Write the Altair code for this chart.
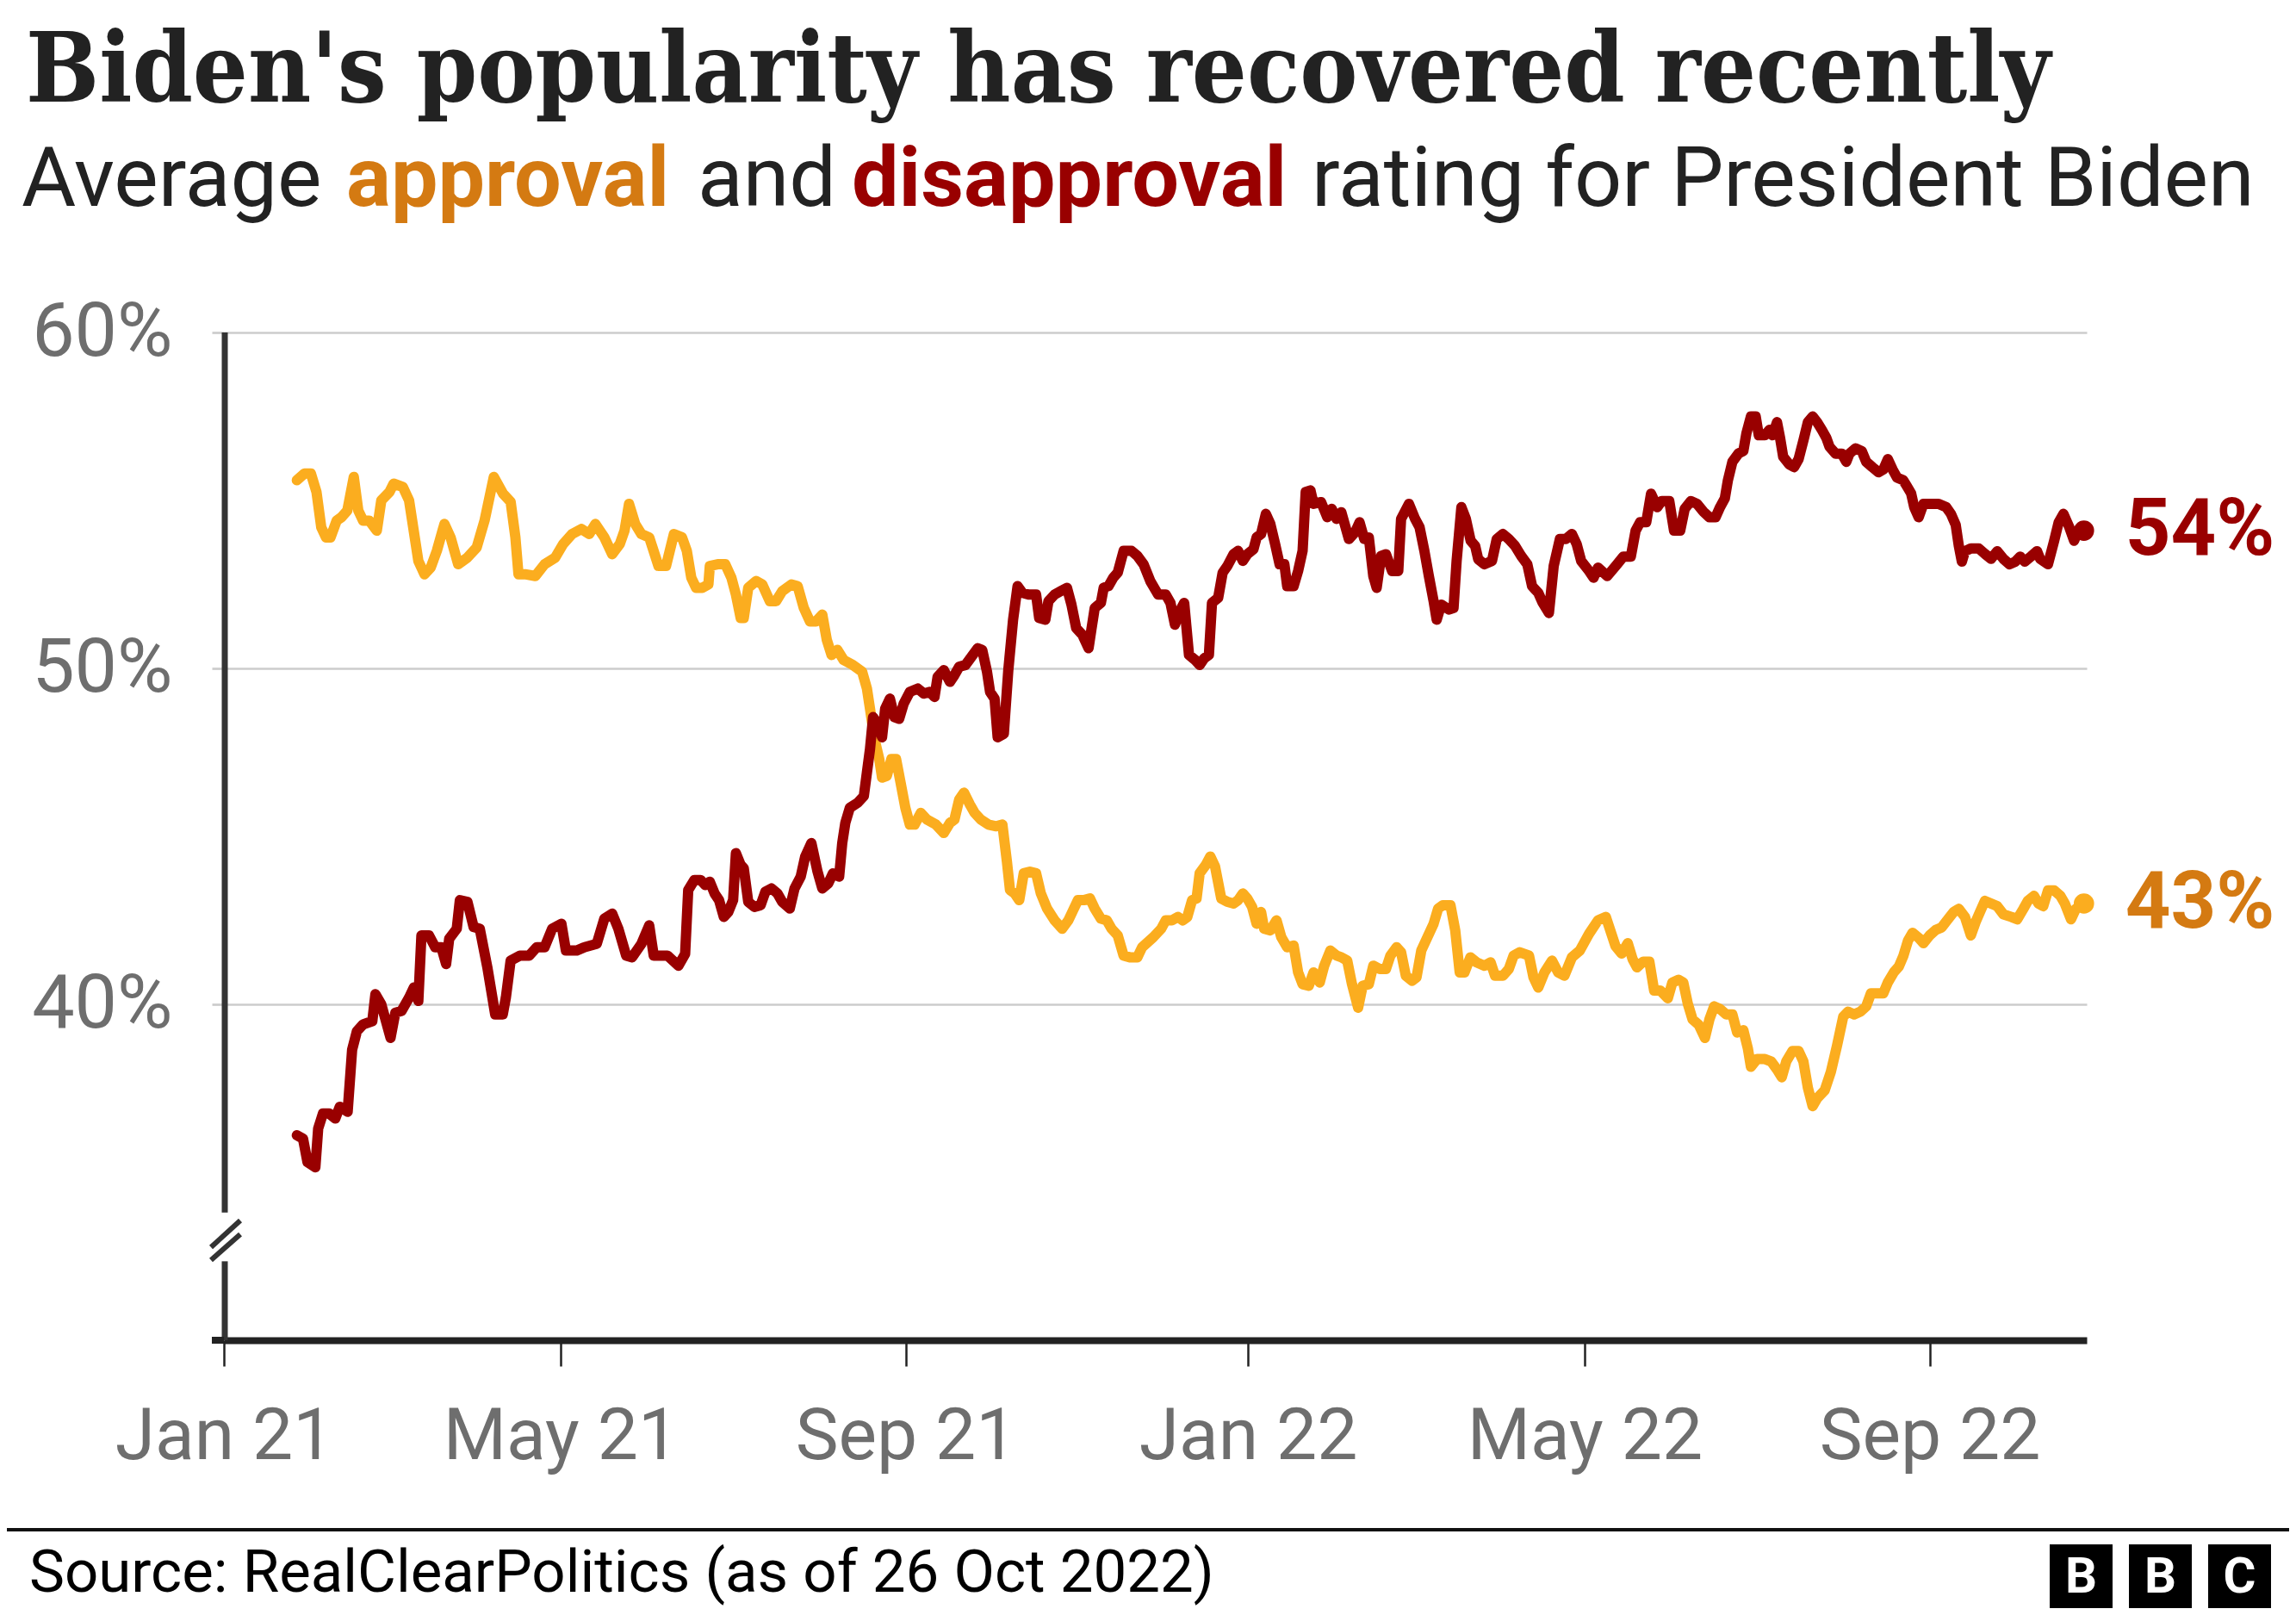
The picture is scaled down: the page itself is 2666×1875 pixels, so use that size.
import pandas as pd
import altair as alt

start = pd.Timestamp("2021-01-01")

approval_day = [
    26, 28.7, 31, 33, 34.7, 36.4, 38, 40.2, 41.9, 44, 46.3, 47.9, 49.6, 51.8, 54.5, 56.1, 59, 60.5,
    63.8, 66, 69.3, 71.5, 73.7, 75.9, 78.6, 80.8, 83.5, 86.8, 90.1, 92.9, 96.2, 99.5, 102.2, 103.9,
    105, 107.7, 111, 114.3, 118.1, 120.9, 124.1, 127.4, 130.2, 132.4, 135.6, 138.4, 141.1, 142.8,
    144.4, 146.6, 148.8, 151.6, 154.9, 157.6, 160.4, 163.3, 165, 166.6, 168.3, 170.5, 172.7, 173.2,
    176, 178.7, 180.9, 182.5, 184.2, 185.3, 186.9, 189.7, 191.9, 194.6, 196.8, 199, 202.3, 204.5,
    206.7, 208.9, 211.1, 213.3, 214.9, 216.6, 218.7, 220.9, 224.2, 227.5, 229.2, 230.3, 231.9,
    233.6, 234.6, 236.3, 237.9, 239.6, 241.2, 242.9, 244.5, 246.2, 248.4, 250.6, 253.8, 256.6,
    258.8, 260.4, 262.1, 263.8, 265.9, 267.6, 269.8, 272.5, 275.3, 277.5, 279.1, 280.2, 281.9,
    283.5, 285.1, 287.3, 289.5, 291.2, 293.4, 296.1, 298.8, 301, 302.7, 304.4, 306.5, 308.7, 310.4,
    312.6, 314.7, 316.4, 318.6, 320.7, 322.9, 325.6, 327.3, 331.3, 334.1, 335.7, 337.9, 340.1,
    341.8, 343.4, 345.1, 346.7, 347.8, 350, 351.6, 353.3, 355.5, 357.7, 359.9, 361.5, 363.2, 364.8,
    366.5, 368.1, 369.7, 370.8, 373, 375.2, 376.9, 379, 381.3, 382.9, 384.5, 386.7, 388.4, 390.6,
    392.2, 394.4, 396.6, 398.3, 400.4, 402.1, 404.3, 405.9, 408.1, 409.7, 412, 414.2, 415.8, 418,
    419.6, 421.3, 423.5, 425.1, 426.8, 429, 431.2, 432.8, 434.5, 437.2, 438.9, 440.5, 442.2, 444.3,
    446.5, 449.3, 451.5, 453.1, 455.9, 458, 459.7, 461.9, 465.2, 466.8, 468.5, 470.7, 473.4, 475.6,
    477.8, 480.5, 483.3, 486.6, 489.8, 492.6, 496, 498.2, 500.4, 502.1, 503.7, 505.9, 508.1, 509.8,
    512, 514.7, 516.3, 518.5, 520.2, 521.8, 523.5, 525.7, 527.9, 529.5, 531.2, 533.3, 535.5, 537.7,
    539.4, 541.6, 543.2, 544.3, 546.5, 549.3, 551.5, 553.6, 555.3, 556.9, 559.1, 561.3, 563, 564.6,
    566.3, 567.9, 570.6, 572.8, 575, 577.2, 578.9, 581.1, 583.3, 585.4, 587.1, 589.3, 591.5, 593.1,
    595.3, 597, 598.6, 600.3, 601.9, 604.1, 605.8, 608, 610.1, 612.3, 614.5, 616.7, 618.4, 620.6,
    622.7, 624.4, 626, 627.7, 629.9, 632.1, 634.3, 637.2, 639.2, 641.4, 643, 645.2, 646.8, 648.5,
    650.2, 652.4, 654.6, 656.2, 658.4, 660.1, 663,
]
approval_pct = [
    55.6, 55.8, 55.8, 55.25, 54.2, 53.9, 53.9, 54.4, 54.5, 54.7, 55.7, 54.7, 54.4, 54.4, 54.1, 55.0,
    55.25, 55.5, 55.4, 55.0, 53.2, 52.8, 53.0, 53.5, 54.3, 53.9, 53.1, 53.3, 53.6, 54.4, 55.7, 55.2,
    54.96, 53.9, 52.8, 52.8, 52.75, 53.1, 53.3, 53.7, 54.0, 54.15, 54.0, 54.3, 53.9, 53.4, 53.7,
    54.1, 54.9, 54.3, 54.0, 53.9, 53.05, 53.05, 54.0, 53.9, 53.5, 52.7, 52.4, 52.4, 52.5, 53.05,
    53.1, 53.1, 52.7, 52.2, 51.5, 51.5, 52.4, 52.6, 52.5, 52.0, 52.0, 52.3, 52.5, 52.45, 51.8, 51.4,
    51.4, 51.6, 50.85, 50.4, 50.55, 50.25, 50.1, 49.9, 49.4, 48.8, 47.9, 47.3, 46.75, 46.8, 47.3,
    47.3, 46.6, 45.85, 45.35, 45.35, 45.7, 45.5, 45.35, 45.1, 45.4, 45.5, 46.1, 46.3, 45.95, 45.7,
    45.5, 45.35, 45.3, 45.35, 44.25, 43.4, 43.3, 43.1, 43.9, 43.95, 43.9, 43.3, 42.85, 42.5, 42.25,
    42.5, 42.8, 43.1, 43.1, 43.15, 42.85, 42.55, 42.5, 42.25, 42.05, 41.45, 41.4, 41.4, 41.7, 42.0,
    42.25, 42.5, 42.5, 42.6, 42.5, 42.6, 43.1, 43.15, 43.9, 44.15, 44.4, 44.1, 43.15, 43.05, 43.0,
    43.1, 43.3, 43.15, 42.9, 42.4, 42.75, 42.25, 42.2, 42.5, 42.0, 41.7, 41.75, 40.95, 40.6, 40.55,
    40.95, 40.65, 41.15, 41.6, 41.45, 41.4, 41.3, 40.6, 39.9, 40.55, 40.6, 41.15, 41.05, 41.05,
    41.45, 41.7, 41.55, 40.85, 40.7, 40.8, 41.6, 42.0, 42.4, 42.85, 42.95, 42.95, 42.2, 40.95, 40.95,
    41.4, 41.25, 41.15, 41.25, 40.85, 40.85, 41.05, 41.45, 41.55, 41.45, 40.8, 40.5, 40.95, 41.3,
    40.95, 40.85, 41.4, 41.6, 42.1, 42.5, 42.6, 41.74, 41.51, 41.82, 41.35, 41.1, 41.27, 41.27,
    40.41, 40.41, 40.18, 40.65, 40.73, 40.65, 40.02, 39.55, 39.39, 39.0, 39.55, 39.94, 39.86, 39.7,
    39.7, 39.16, 39.23, 38.69, 38.14, 38.37, 38.37, 38.3, 38.06, 37.83, 38.3, 38.61, 38.61, 38.3,
    37.52, 36.97, 37.2, 37.44, 37.99, 38.77, 39.63, 39.78, 39.7, 39.78, 39.94, 40.33, 40.33, 40.33,
    40.65, 40.96, 41.12, 41.43, 41.9, 42.13, 41.98, 41.82, 42.05, 42.21, 42.29, 42.53, 42.76, 42.84,
    42.6, 42.05, 42.45, 42.76, 43.08, 43.0, 42.92, 42.68, 42.6, 42.53, 42.84, 43.08, 43.23, 43.0,
    42.92, 43.39, 43.39, 43.23, 43.0, 42.53, 42.84, 43.0,
]

disapproval_day = [
    26, 28.2, 29.8, 32.6, 33.6, 35.3, 37.5, 39.7, 41.3, 44.1, 45.7, 47.4, 49.6, 52.9, 54, 56.1, 59.4,
    61.1, 63.3, 66, 67.7, 69.3, 70.4, 73.1, 75.3, 77.5, 79.2, 80.3, 83, 84.1, 86.8, 89, 91.2, 93.9,
    96.7, 99.4, 100.5, 102.2, 105.5, 108.8, 111.5, 114.3, 117, 120.3, 121.9, 125.8, 128.5, 132.9,
    135.6, 138.4, 140.6, 143.4, 145.5, 148.8, 151.6, 153.2, 158.1, 162, 164.4, 165.5, 167.7, 169.9,
    171.6, 173.2, 174.9, 176.5, 178.2, 179.8, 181.5, 182.5, 184.2, 185.3, 186.9, 189.1, 191.3, 193,
    195.2, 197.3, 199, 201.7, 203.4, 205.6, 207.2, 209.4, 211.6, 213.3, 215.4, 217.1, 219.3, 220.4,
    221.5, 223.1, 225.9, 228.1, 229.2, 230.3, 231.4, 233, 234.6, 235.7, 237.4, 239, 240.7, 242.3,
    244.5, 247.3, 249.5, 251.6, 253.3, 254.4, 256.6, 258.8, 260.4, 262.1, 264.3, 266.5, 268.7,
    270.3, 272, 273.1, 274.7, 275.8, 278, 279.6, 281.3, 282.9, 284.6, 286.8, 289.5, 290.6, 292.8,
    293.9, 296.1, 298.3, 300.5, 302.1, 303.8, 306, 308.2, 309.2, 310.4, 312.6, 313.6, 315.3, 317,
    318.6, 320.7, 323.5, 325.6, 327.8, 330.2, 333, 335.7, 337.4, 339, 340.7, 342.3, 344, 346.2,
    347.8, 349.4, 351.1, 352.2, 354.4, 356, 357.7, 359.9, 361.5, 363.2, 364.8, 367, 368.1, 369.7,
    371.4, 373, 374.7, 376.3, 378, 379, 381.3, 382.9, 384.5, 385.6, 387.3, 388.4, 391.1, 393.3,
    394.9, 396.6, 398.3, 401, 403.2, 404.8, 406.5, 408.1, 409.7, 410.9, 412.5, 414.2, 416.4, 418.6,
    419.6, 422.4, 424.6, 426.2, 427.9, 429.5, 431.2, 432.3, 433.9, 436.7, 438.3, 439.4, 441.1,
    442.7, 444.4, 446, 447.1, 449.3, 452, 453.7, 455.9, 458, 460.2, 462.4, 464.6, 466.3, 468.5,
    470.1, 472.3, 474, 476.2, 478.3, 480.5, 482.2, 483.8, 486.6, 488.2, 489.8, 493.1, 496.6, 498.8,
    501.5, 503.2, 504.8, 507, 508.7, 510.9, 512.5, 515.2, 516.9, 519.1, 520.7, 522.9, 525.1, 527.3,
    529.5, 531.7, 533.3, 535, 536.1, 537.7, 539.9, 541.6, 542.7, 544.3, 546, 547.1, 549.3, 550.9,
    552, 553.6, 554.7, 555.8, 558, 559.7, 561.3, 563, 564.6, 566.3, 567.9, 569.6, 571.2, 572.3,
    574.5, 576.7, 578.3, 579.4, 581.6, 583.8, 585.4, 587.6, 589.8, 591.5, 593.1, 594.8, 596.4,
    598.6, 599.7, 601.4, 602.5, 604.1, 605.8, 608.5, 611.2, 613.9, 615.6, 617.3, 618.4, 619.5,
    620.6, 622.7, 625.5, 627.7, 629.9, 632.1, 634.3, 636.5, 638.6, 640.3, 641.9, 644.1, 646.3,
    647.4, 650.2, 652.4, 654, 655.7, 657.8, 659.5, 661.1, 663,
]
disapproval_pct = [
    36.1, 36.0, 35.3, 35.15, 36.3, 36.75, 36.75, 36.6, 36.95, 36.8, 38.65, 39.2, 39.4, 39.5, 40.3,
    40.0, 39.0, 39.75, 39.8, 40.2, 40.5, 40.1, 42.05, 42.05, 41.7, 41.7, 41.2, 41.95, 42.25, 43.1,
    43.05, 42.3, 42.25, 41.1, 39.7, 39.7, 40.2, 41.3, 41.45, 41.45, 41.7, 41.7, 42.25, 42.4, 41.6,
    41.6, 41.7, 41.8, 42.55, 42.7, 42.25, 41.45, 41.4, 41.8, 42.35, 41.45, 41.45, 41.15, 41.5, 43.4,
    43.7, 43.7, 43.55, 43.65, 43.3, 43.1, 42.6, 42.75, 43.1, 44.5, 44.15, 44.05, 43.05, 42.9, 42.95,
    43.35, 43.45, 43.3, 43.05, 42.85, 43.45, 43.8, 44.4, 44.8, 43.95, 43.45, 43.6, 43.9, 43.8, 44.8,
    45.4, 45.85, 46.0, 46.2, 46.9, 47.6, 48.55, 48.35, 47.95, 48.8, 49.1, 48.55, 48.5, 48.95, 49.3,
    49.4, 49.25, 49.3, 49.15, 49.75, 49.95, 49.6, 49.8, 50.05, 50.1, 50.35, 50.6, 50.55, 49.9, 49.3,
    49.1, 47.95, 48.05, 49.95, 51.45, 52.45, 52.25, 52.2, 52.2, 51.5, 51.45, 52.0, 52.2, 52.3, 52.4,
    51.9, 51.2, 51.0, 50.6, 51.15, 51.8, 51.95, 52.4, 52.45, 52.7, 52.85, 53.5, 53.5, 53.35, 53.1,
    52.6, 52.2, 52.2, 51.95, 51.3, 51.7, 51.95, 50.4, 50.25, 50.1, 50.3, 50.4, 51.95, 52.1, 52.85,
    53.05, 53.4, 53.5, 53.2, 53.4, 53.55, 53.9, 54.0, 54.6, 54.3, 53.7, 53.1, 53.1, 52.45, 52.45,
    52.9, 53.5, 55.25, 55.3, 54.9, 54.95, 54.5, 54.75, 54.45, 54.65, 53.85, 54.05, 54.35, 53.85,
    53.9, 52.75, 52.4, 53.35, 53.4, 52.9, 52.9, 54.45, 54.9, 54.45, 54.2, 53.5, 52.75, 52.0, 51.45,
    51.9, 51.75, 51.8, 53.2, 54.8, 54.45, 53.8, 53.65, 53.25, 53.1, 53.2, 53.85, 54.0, 53.85, 53.65,
    53.35, 53.1, 52.45, 52.25, 51.95, 51.65, 53.05, 53.85, 53.85, 54.0, 53.7, 53.2, 52.9, 52.7,
    53.0, 52.75, 53.1, 53.33, 53.33, 54.1, 54.35, 54.35, 55.2, 54.8, 54.98, 54.98, 54.1, 54.1,
    54.75, 54.98, 54.9, 54.67, 54.5, 54.5, 54.8, 55.06, 55.6, 56.15, 56.4, 56.47, 57.0, 57.5, 57.5,
    56.94, 56.94, 57.1, 56.94, 57.33, 56.86, 56.3, 56.07, 55.99, 56.23, 56.78, 57.33, 57.5, 57.33,
    57.1, 56.86, 56.6, 56.39, 56.39, 56.15, 56.39, 56.55, 56.47, 56.15, 55.99, 55.84, 55.92, 56.23,
    55.92, 55.68, 55.6, 55.45, 55.21, 54.8, 54.5, 54.9, 54.9, 54.9, 54.8, 54.6, 54.27, 53.65, 53.18,
    53.49, 53.57, 53.57, 53.41, 53.26, 53.49, 53.26, 53.1, 53.18, 53.33, 53.18, 53.33, 53.49, 53.26,
    53.1, 53.8, 54.35, 54.6, 54.2, 53.8, 54.12, 54.1,
]

series_names = ["approval", "disapproval"]
line_colors = ["#fbad1f", "#990000"]
label_colors = ["#d47a12", "#990000"]

tick_months = [(2021, 1), (2021, 5), (2021, 9), (2022, 1), (2022, 5), (2022, 9)]
y_ticks = [40, 50, 60]

frames = []
for name, days, vals in [("approval", approval_day, approval_pct),
                         ("disapproval", disapproval_day, disapproval_pct)]:
    frames.append(pd.DataFrame({
        "date": start + pd.to_timedelta(days, unit="D"),
        "pct": vals,
        "series": name,
    }))
df = pd.concat(frames, ignore_index=True)

last = df.groupby("series").tail(1).copy()
last["label"] = last["pct"].round().astype(int).astype(str) + "%"
last["tcolor"] = last["series"].map(dict(zip(series_names, label_colors)))

x_enc = alt.X(
    "date:T",
    scale=alt.Scale(domain=[alt.DateTime(year=2021, month=1, date=1),
                            alt.DateTime(year=2022, month=10, date=27)]),
    axis=alt.Axis(
        values=[alt.DateTime(year=y, month=m, date=1) for y, m in tick_months],
        format="%b %y", grid=False, title=None,
        domainColor="#222222", domainWidth=8,
        tickColor="#222222", tickSize=30, tickWidth=2.5,
        labelFont="Roboto", labelFontSize=84, labelColor="#6e6e6e", labelLimit=0,
        labelBaseline="alphabetic", labelPadding=107, labelFlush=False,
    ),
)
y_enc = alt.Y(
    "pct:Q",
    scale=alt.Scale(domain=[30, 60], nice=False, zero=False),
    axis=alt.Axis(
        values=y_ticks, labelExpr="datum.value + '%'", title=None,
        grid=True, gridColor="#cccccc", gridWidth=2.7,
        domain=False, tickSize=14, tickColor="#cccccc", tickWidth=2.7,
        labelFont="Roboto", labelFontSize=88, labelColor="#6e6e6e", labelLimit=0,
        labelPadding=46, labelBaseline="middle",
    ),
)
color_enc = alt.Color("series:N", scale=alt.Scale(domain=series_names, range=line_colors),
                      legend=None)

lines = alt.Chart(df).mark_line(strokeWidth=12, strokeJoin="round", strokeCap="round").encode(
    x=x_enc, y=y_enc, color=color_enc, order="date:T"
)
dots = alt.Chart(last).mark_circle(size=560, opacity=1).encode(
    x="date:T", y="pct:Q", color=color_enc
)
end_labels = alt.Chart(last).mark_text(
    align="left", baseline="middle", dx=48, fontSize=92, fontWeight="bold", font="Roboto"
).encode(x="date:T", y="pct:Q", text="label:N", color=alt.Color("tcolor:N", scale=None))

# broken y axis line
axis_parts = pd.DataFrame({"y": [60, 32.35], "y2": [33.8, 30]})
y_axis = alt.Chart(axis_parts).mark_rule(strokeWidth=7, color="#333333").encode(
    x=alt.value(1), y="y:Q", y2="y2:Q"
)

one = pd.DataFrame({"k": [0]})


def mark_pix(x, y, x2, y2, width=6, color="#333333"):
    return alt.Chart(one).mark_rule(strokeWidth=width, color=color).encode(
        x=alt.value(x), y=alt.value(y), x2=alt.value(x2), y2=alt.value(y2)
    )


def text(s, x, y, size, color, weight="normal", font="Roboto", align="left",
         baseline="alphabetic"):
    return alt.Chart(one).mark_text(
        text=s, align=align, baseline=baseline, fontSize=size, color=color,
        fontWeight=weight, font=font
    ).encode(x=alt.value(x), y=alt.value(y))


brk = [
    mark_pix(-15, 1062, 19, 1031),
    mark_pix(-15, 1077, 19, 1047),
    mark_pix(-14, 1170, 0, 1170, width=8, color="#222222"),
]

heading = [
    text("Biden's popularity has recovered recently", -230, -268, 112, "#222222",
         weight="bold", font="DejaVu Serif Condensed, Liberation Serif"),
    text("Average", -235, -147, 97, "#222222"),
    text("approval", 142, -147, 97, label_colors[0], weight="bold"),
    text("and", 550, -147, 97, "#222222"),
    text("disapproval", 729, -147, 97, label_colors[1], weight="bold"),
    text("rating for President Biden", 1263, -147, 97, "#222222"),
]

footer = [
    mark_pix(-252, 1390, 2398, 1390, width=4, color="#111111"),
    text("Source: RealClearPolitics (as of 26 Oct 2022)", -226, 1462, 69, "#000000"),
]
for i, letter in enumerate(["B", "B", "C"]):
    left = 2120 + i * 92
    footer.append(alt.Chart(one).mark_rect(color="#000000").encode(
        x=alt.value(left), x2=alt.value(left + 73), y=alt.value(1407), y2=alt.value(1481)))
    footer.append(text(letter, left + 36.5, 1446, 58, "#ffffff", weight="bold",
                       align="center", baseline="middle"))

chart = alt.layer(lines, y_axis, *brk, dots, end_labels, *heading, *footer).properties(
    width=2163, height=1170,
    autosize=alt.AutoSizeParams(type="none"),
    padding={"left": 252, "top": 378, "right": 235, "bottom": 311},
).configure_view(stroke=None)

chart.save("out.html", embed_options={"renderer": "svg", "actions": False})
